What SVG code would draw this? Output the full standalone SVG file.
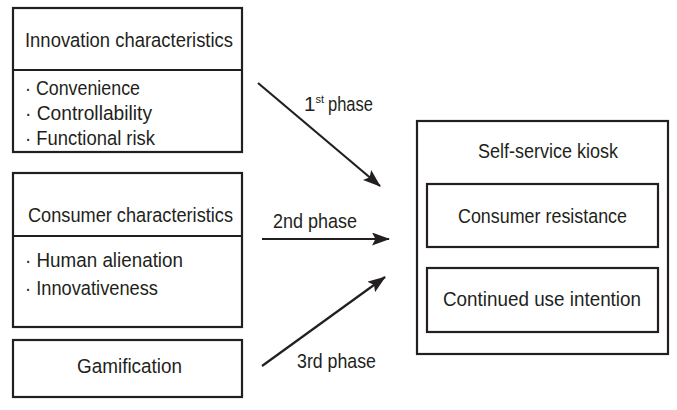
<svg xmlns="http://www.w3.org/2000/svg" width="677" height="410" viewBox="0 0 677 410">
<style>
.box{fill:#fff;stroke:#231f20;stroke-width:2.2}
.ln{stroke:#231f20;stroke-width:2.2;fill:none}
text{font-family:"Liberation Sans","DejaVu Sans",sans-serif;font-size:20.5px;fill:#231f20}
.sup{font-size:11px}
</style>
<defs>
<marker id="ah" viewBox="0 0 18 13" refX="17" refY="6.5" markerWidth="18" markerHeight="13" markerUnits="userSpaceOnUse" orient="auto">
<path d="M0,0 L18,6.5 L0,13 L3.5,6.5 Z" fill="#231f20"/>
</marker>
</defs>
<rect width="677" height="410" fill="#fff"/>
<g id="innovation">
<rect class="box" x="13" y="8" width="229" height="144"/>
<line class="ln" x1="13" y1="70" x2="242" y2="70"/>
<text x="25" y="47" textLength="208" lengthAdjust="spacingAndGlyphs">Innovation characteristics</text>
<text x="25" y="95" textLength="115" lengthAdjust="spacingAndGlyphs">· Convenience</text>
<text x="25" y="120" textLength="127" lengthAdjust="spacingAndGlyphs">· Controllability</text>
<text x="25" y="145" textLength="130" lengthAdjust="spacingAndGlyphs">· Functional risk</text>
</g>
<g id="consumer">
<rect class="box" x="13" y="173" width="229" height="154"/>
<line class="ln" x1="13" y1="236" x2="242" y2="236"/>
<text x="28" y="222" textLength="205" lengthAdjust="spacingAndGlyphs">Consumer characteristics</text>
<text x="25" y="267" textLength="158" lengthAdjust="spacingAndGlyphs">· Human alienation</text>
<text x="25" y="295" textLength="133" lengthAdjust="spacingAndGlyphs">· Innovativeness</text>
</g>
<g id="gamification">
<rect class="box" x="13" y="340" width="229" height="57"/>
<text x="77" y="373" textLength="105" lengthAdjust="spacingAndGlyphs">Gamification</text>
</g>
<g id="kiosk">
<rect class="box" x="417" y="121" width="251" height="233"/>
<text x="478" y="158" textLength="140" lengthAdjust="spacingAndGlyphs">Self-service kiosk</text>
<rect class="box" x="427" y="184" width="231" height="63"/>
<text x="458" y="223" textLength="169" lengthAdjust="spacingAndGlyphs">Consumer resistance</text>
<rect class="box" x="427" y="268" width="231" height="64"/>
<text x="443" y="306" textLength="198" lengthAdjust="spacingAndGlyphs">Continued use intention</text>
</g>
<g id="connectors">
<line class="ln" x1="258" y1="83" x2="380" y2="186" marker-end="url(#ah)"/>
<line class="ln" x1="262" y1="239" x2="389" y2="239" marker-end="url(#ah)"/>
<line class="ln" x1="262" y1="366" x2="385" y2="277" marker-end="url(#ah)"/>
<text x="304" y="111">1<tspan class="sup" dy="-8">st</tspan><tspan dy="8" x="328" textLength="45" lengthAdjust="spacingAndGlyphs">phase</tspan></text>
<text x="273" y="228" textLength="84" lengthAdjust="spacingAndGlyphs">2nd phase</text>
<text x="297" y="368" textLength="79" lengthAdjust="spacingAndGlyphs">3rd phase</text>
</g>
</svg>
